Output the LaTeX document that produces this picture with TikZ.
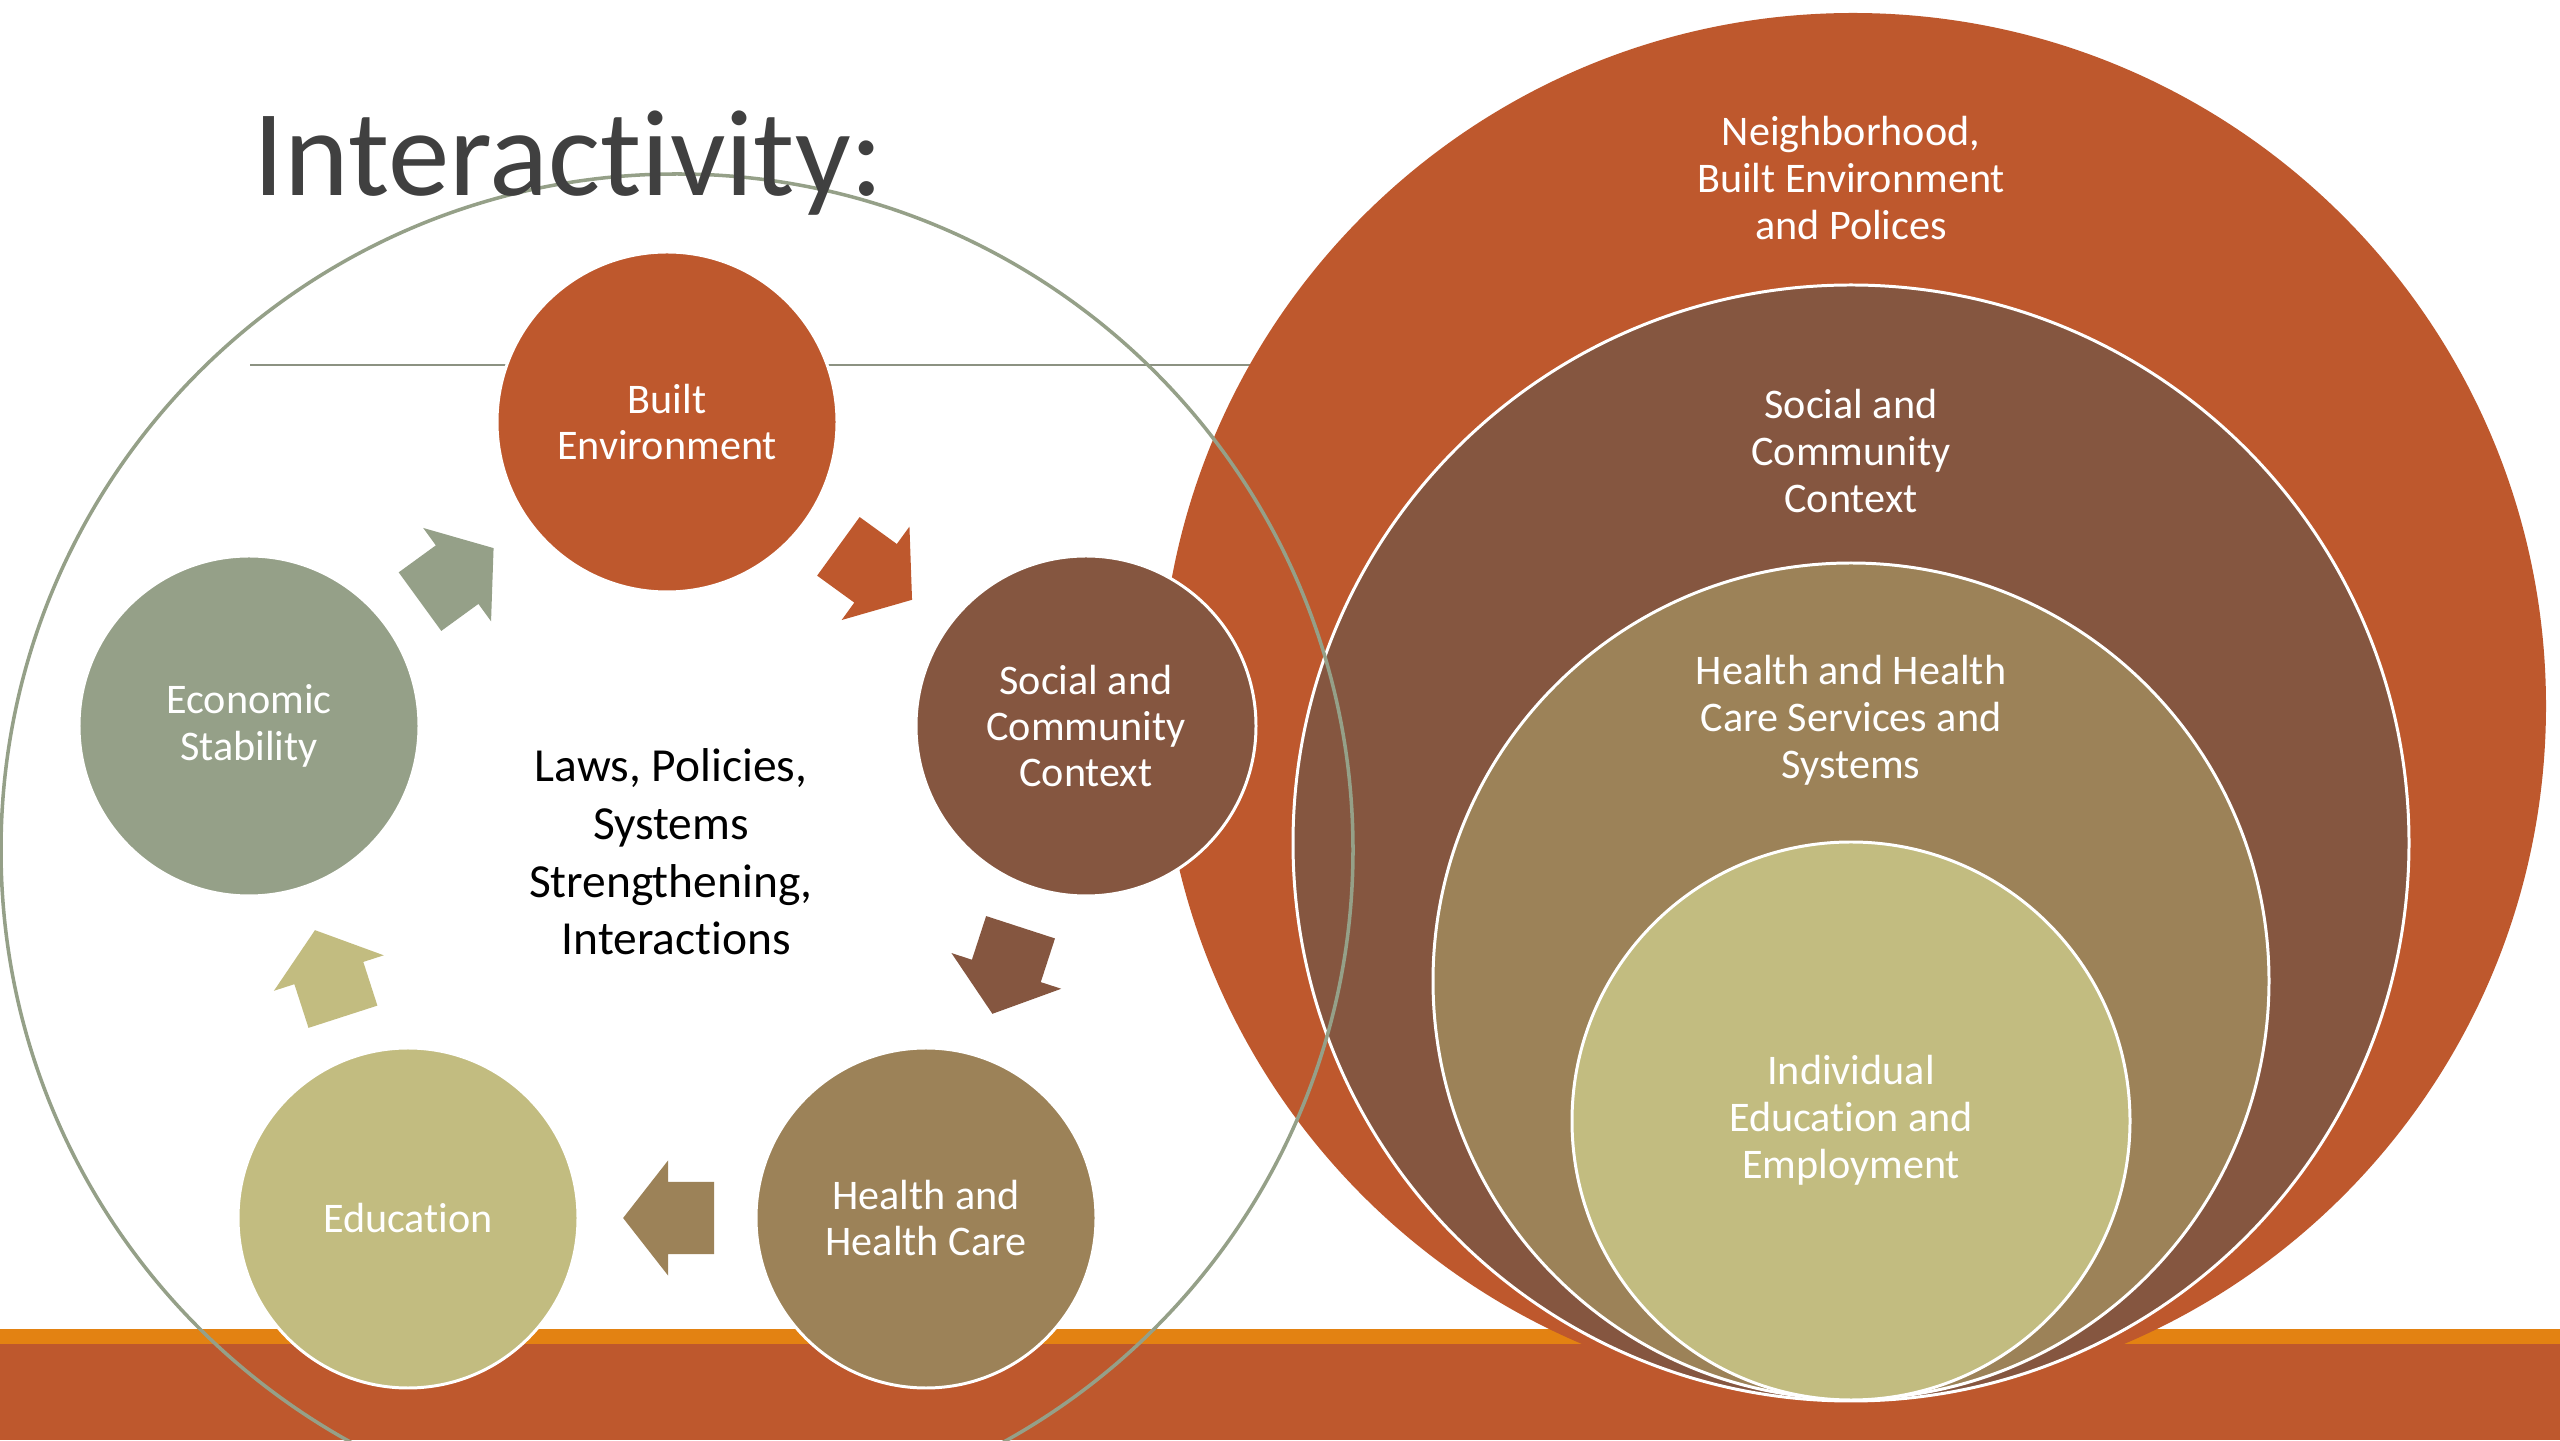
\documentclass[tikz,border=0pt]{standalone}
\usepackage{fontspec}
\setmainfont{Carlito}[Ligatures=NoCommon]
\usetikzlibrary{shapes.arrows}

\definecolor{rust}{RGB}{190,88,45}
\definecolor{bark}{RGB}{133,86,64}
\definecolor{khaki}{RGB}{156,130,88}
\definecolor{sand}{RGB}{194,188,128}
\definecolor{sage}{RGB}{149,160,136}
\definecolor{amber}{RGB}{227,130,18}
\definecolor{slate}{RGB}{64,64,64}
\definecolor{rulegray}{RGB}{140,146,130}

\tikzset{
  spoke/.style={circle,minimum size=3.4cm,inner sep=0pt,draw=white,line width=0.85pt,text=white,align=center,font=\fontsize{12}{13.2}\selectfont},
  ring/.style={circle,inner sep=0pt,draw=white,line width=0.85pt},
  ringtext/.style={text=white,align=center,font=\fontsize{12}{13.4}\selectfont},
  turn/.style={single arrow,draw=none,inner sep=0pt,outer sep=0pt,text height=0.71cm,text depth=0pt,minimum height=0.91cm,single arrow head extend=0.215cm,single arrow tip angle=104,pos=0.41,sloped,allow upside down}
}

\begin{document}
\begin{tikzpicture}
\useasboundingbox (0,0) rectangle (25.6,14.4);
\fill[white] (0,0) rectangle (25.6,14.4);
\fill[rust] (0,0) rectangle (25.6,0.96);
\fill[amber] (0,0.96) rectangle (25.6,1.11);
\draw[rulegray,line width=0.6pt] (2.50,10.75) -- (12.6,10.75);

\node[ring,draw=none,fill=rust,minimum size=13.86cm] (hood) at (18.53,7.34) {};
\node[ring,fill=bark,minimum size=11.16cm] (social2) at (18.51,5.97) {};
\node[ring,fill=khaki,minimum size=8.36cm] (health2) at (18.51,4.59) {};
\node[ring,fill=sand,minimum size=5.58cm] (indiv) at (18.51,3.19) {};
\node[ringtext] (hoodlabel) at (18.51,12.62) {Neighborhood,\\Built Environment\\and Polices};
\node[ringtext] (social2label) at (18.51,9.89) {Social and\\Community\\Context};
\node[ringtext] (health2label) at (18.51,7.20) {Health and Health\\Care Services and\\Systems};
\node[ringtext] (indivlabel) at (18.51,3.20) {Individual\\Education and\\Employment};

\draw[sage,line width=1pt] (6.77,5.90) circle (6.76);

\node[spoke,fill=rust] (built) at (6.67,10.18) {Built\\Environment};
\node[spoke,fill=bark] (social) at (10.86,7.14) {Social and\\Community\\Context};
\node[spoke,fill=khaki] (health) at (9.26,2.22) {Health and\\Health Care};
\node[spoke,fill=sand] (educ) at (4.08,2.22) {Education};
\node[spoke,fill=sage] (econ) at (2.49,7.14) {Economic\\Stability};

\path (econ) -- node[turn,fill=sage] (a1) {} (built);
\path (built) -- node[turn,fill=rust] (a2) {} (social);
\path (social) -- node[turn,fill=bark] (a3) {} (health);
\path (health) -- node[turn,fill=khaki] (a4) {} (educ);
\path (educ) -- node[turn,fill=sand] (a5) {} (econ);

\node[align=center,font=\fontsize{13.5}{16.4}\selectfont] (hub) at (6.71,5.88) {Laws, Policies,\\Systems\\Strengthening,\\~Interactions};

\node[anchor=base west,inner sep=0pt,text=slate,font=\fontsize{35}{42}\selectfont] (title) at (2.53,12.44) {Interactivity:};
\end{tikzpicture}
\end{document}
